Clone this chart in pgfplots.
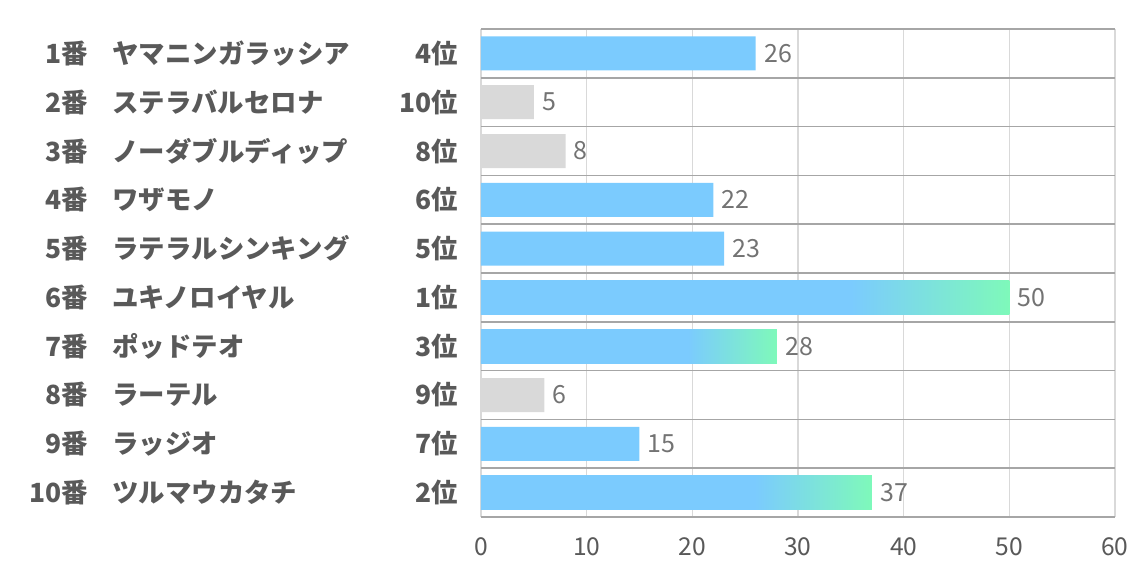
\documentclass[border=0pt]{standalone}
\usepackage{fontspec}
\setmainfont{Noto Sans CJK JP}
\usepackage{pgfplots}
\pgfplotsset{compat=1.18}
\definecolor{barblue}{HTML}{7BCBFE}
\definecolor{bargreen}{HTML}{7EF9BA}
\definecolor{bargray}{HTML}{D9D9D9}
\definecolor{lblgray}{HTML}{595959}
\definecolor{valgray}{HTML}{737373}
\definecolor{hgrid}{HTML}{A6A6A6}
\definecolor{vgrid}{HTML}{D9D9D9}
\pgfdeclarehorizontalshading{barshade}{100bp}{color(0bp)=(barblue); color(60bp)=(barblue); color(75bp)=(bargreen); color(100bp)=(bargreen)}
\newcommand{\lab}[3]{\makebox[27.5pt][r]{#1}\hspace{12.5pt}\makebox[125pt][l]{#2}\makebox[47.5pt][r]{#3}}

\begin{document}
\begin{tikzpicture}
\path[use as bounding box] (-240.5pt,-25pt) rectangle (326.5pt,258.5pt);
\begin{axis}[
 scale only axis, width=317pt, height=244pt,
 xmin=0, xmax=60, ymin=0.5, ymax=10.5, y dir=reverse,
 xtick={0,10,...,60}, ytick={1,...,10},
 minor ytick={0.5,1.5,...,10.5},
 xmajorgrids, yminorgrids,
 major grid style={vgrid, line width=0.75pt},
 minor grid style={hgrid, line width=0.8pt},
 axis line style={draw=none},
 tick style={draw=none},
 yticklabels={
  {\lab{1番}{ヤマニンガラッシア}{4位}},
  {\lab{2番}{ステラバルセロナ}{10位}},
  {\lab{3番}{ノーダブルディップ}{8位}},
  {\lab{4番}{ワザモノ}{6位}},
  {\lab{5番}{ラテラルシンキング}{5位}},
  {\lab{6番}{ユキノロイヤル}{1位}},
  {\lab{7番}{ポッドテオ}{3位}},
  {\lab{8番}{ラーテル}{9位}},
  {\lab{9番}{ラッジオ}{7位}},
  {\lab{10番}{ツルマウカタチ}{2位}}
 },
 yticklabel style={font=\fontsize{13.2}{15}\selectfont\bfseries, text=lblgray, inner sep=0pt, xshift=-11.5pt},
 xticklabel style={font=\fontsize{12.3}{14}\selectfont, text=lblgray, inner sep=0pt, yshift=-10pt},
 /pgf/number format/assume math mode=true,
 clip=false,
]
\addplot[xbar, bar width=17pt, bar shift=0pt, draw=none, fill=barblue]
  coordinates {(26,1) (22,4) (23,5) (15,9)};
\addplot[xbar, bar width=17pt, bar shift=0pt, draw=none, fill=bargray]
  coordinates {(5,2) (8,3) (6,8)};
\addplot[xbar, bar width=17pt, bar shift=0pt, draw=none, shade, shading=barshade]
  coordinates {(50,6)};
\addplot[xbar, bar width=17pt, bar shift=0pt, draw=none, shade, shading=barshade]
  coordinates {(28,7)};
\addplot[xbar, bar width=17pt, bar shift=0pt, draw=none, shade, shading=barshade]
  coordinates {(37,10)};
\addplot[draw=none, mark=none, point meta=x, nodes near coords,
  every node near coord/.append style={anchor=west, font=\fontsize{12.5}{14}\selectfont, text=valgray, inner sep=0pt, xshift=4pt}]
  coordinates {(26,1) (5,2) (8,3) (22,4) (23,5) (50,6) (28,7) (6,8) (15,9) (37,10)};
\end{axis}
\end{tikzpicture}
\end{document}
